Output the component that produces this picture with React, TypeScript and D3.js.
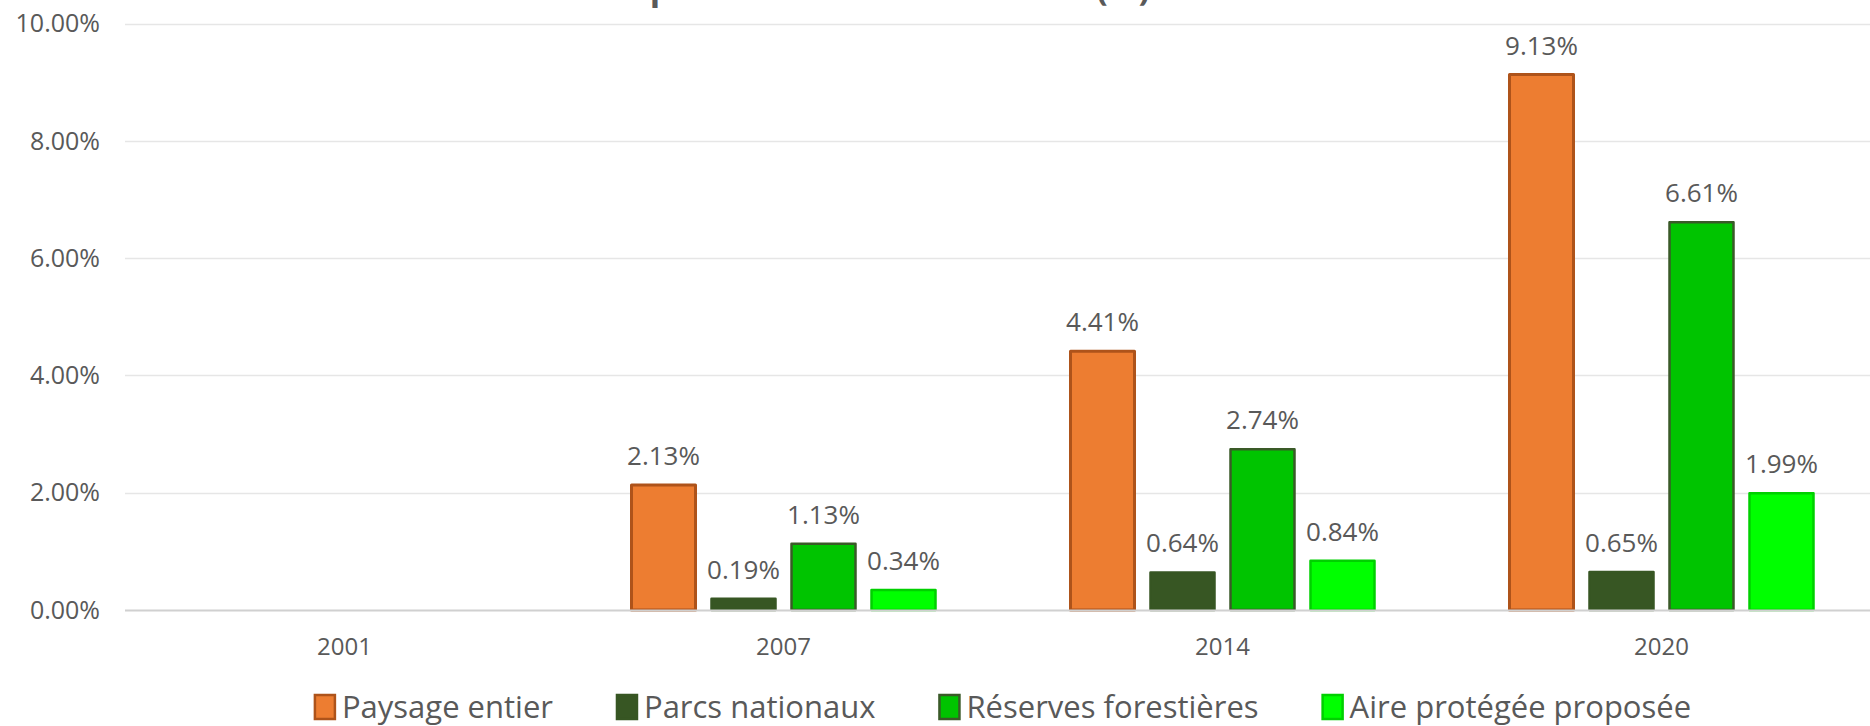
import React, { useEffect, useRef } from "react";
import * as d3 from "d3";

const title = "Taux de perte de couvert forestier (%)";
const years = ["2001", "2007", "2014", "2020"];
const seriesNames = [
  "Paysage entier",
  "Parcs nationaux",
  "Réserves forestières",
  "Aire protégée proposée",
];
const paysageEntier = [null, 0.0213, 0.0441, 0.0913];
const parcsNationaux = [null, 0.0019, 0.0064, 0.0065];
const reservesForestieres = [null, 0.0113, 0.0274, 0.0661];
const aireProtegee = [null, 0.0034, 0.0084, 0.0199];
const yTicks = [0, 0.02, 0.04, 0.06, 0.08, 0.1];

const fills = ["#ED7D31", "#375623", "#00C400", "#00FF00"];
const strokes = ["#AE531A", "#375623", "#3A5A28", "#00D000"];

const W = 1870;
const H = 726;
const FONT = "'Open Sans', 'Noto Sans', sans-serif";
const TXT = "#595959";

export default function App() {
  const ref = useRef<SVGSVGElement | null>(null);

  useEffect(() => {
    const svg = d3.select(ref.current);
    svg.selectAll("*").remove();

    const allSeries = [paysageEntier, parcsNationaux, reservesForestieres, aireProtegee];

    const x0 = d3.scaleBand<string>().domain(years).range([125, 125 + 4 * 439]).padding(0);
    const x1 = d3
      .scaleBand<string>()
      .domain(seriesNames)
      .range([0, x0.bandwidth()])
      .paddingInner(0.2)
      .paddingOuter(0.84375);
    const y = d3.scaleLinear().domain([0, 0.1]).range([610, 23.5]);

    // title (cut off at top, as in the reference)
    svg
      .append("text")
      .attr("x", 1150)
      .attr("y", 0)
      .attr("text-anchor", "end")
      .attr("font-family", FONT)
      .attr("font-weight", 700)
      .attr("font-size", 34)
      .attr("fill", TXT)
      .text(title);

    // gridlines
    svg
      .append("g")
      .selectAll("line")
      .data(yTicks.filter((t) => t > 0))
      .join("line")
      .attr("x1", x0.range()[0])
      .attr("x2", x0.range()[1])
      .attr("y1", (d) => Math.round(y(d)) + 0.5)
      .attr("y2", (d) => Math.round(y(d)) + 0.5)
      .attr("stroke", "#E6E6E6")
      .attr("stroke-width", 1.5);

    // y tick labels
    const fmt = d3.format(".2%");
    svg
      .append("g")
      .selectAll("text")
      .data(yTicks)
      .join("text")
      .attr("x", 100)
      .attr("y", (d) => y(d))
      .attr("dy", "0.35em")
      .attr("text-anchor", "end")
      .attr("font-family", FONT)
      .attr("font-size", 25)
      .attr("fill", TXT)
      .text((d) => fmt(d));

    // bars
    const gBars = svg.append("g");
    years.forEach((yr, i) => {
      allSeries.forEach((s, j) => {
        const v = s[i];
        if (v == null) return;
        const bx = (x0(yr) as number) + (x1(seriesNames[j]) as number);
        const bw = x1.bandwidth();
        gBars
          .append("rect")
          .attr("x", bx)
          .attr("y", y(v))
          .attr("width", bw)
          .attr("height", y(0) - y(v))
          .attr("fill", fills[j])
          .attr("stroke", strokes[j])
          .attr("stroke-width", j === 0 ? 3 : 2.5)
          .attr("stroke-linejoin", "round");
        gBars
          .append("text")
          .attr("x", bx + bw / 2)
          .attr("y", y(v) - 20)
          .attr("text-anchor", "middle")
          .attr("font-family", FONT)
          .attr("font-size", 26)
          .attr("fill", TXT)
          .text(fmt(v));
      });
    });

    // x axis line
    svg
      .append("line")
      .attr("x1", x0.range()[0])
      .attr("x2", x0.range()[1])
      .attr("y1", y(0) + 0.5)
      .attr("y2", y(0) + 0.5)
      .attr("stroke", "#D0D0D0")
      .attr("stroke-width", 2);

    // category labels
    svg
      .append("g")
      .selectAll("text")
      .data(years)
      .join("text")
      .attr("x", (d) => (x0(d) as number) + x0.bandwidth() / 2)
      .attr("y", 655)
      .attr("text-anchor", "middle")
      .attr("font-family", FONT)
      .attr("font-size", 24)
      .attr("fill", TXT)
      .text((d) => d);

    // legend
    const gLeg = svg.append("g");
    const swW = 20;
    const swH = 24;
    const swGap = 7;
    const itemGap = 64;
    const items = seriesNames.map((n, j) => {
      const g = gLeg.append("g");
      g.append("rect")
        .attr("x", 0)
        .attr("y", -swH / 2)
        .attr("width", swW)
        .attr("height", swH)
        .attr("fill", fills[j])
        .attr("stroke", strokes[j])
        .attr("stroke-width", 2.5);
      const t = g
        .append("text")
        .attr("x", swW + swGap)
        .attr("y", 0)
        .attr("dy", "0.35em")
        .attr("font-family", FONT)
        .attr("font-size", 31)
        .attr("fill", TXT)
        .text(n);
      const tw = (t.node() as SVGTextElement).getComputedTextLength();
      return { g, w: swW + swGap + tw };
    });
    const total = d3.sum(items, (d) => d.w) + itemGap * (items.length - 1);
    const cx = (x0.range()[0] + x0.range()[1]) / 2;
    let cur = cx - total / 2;
    items.forEach((it) => {
      it.g.attr("transform", `translate(${cur},707)`);
      cur += it.w + itemGap;
    });
  }, []);

  return (
    <svg
      ref={ref}
      width={W}
      height={H}
      style={{ display: "block", position: "absolute", left: 0, top: 0, background: "#fff" }}
    />
  );
}
